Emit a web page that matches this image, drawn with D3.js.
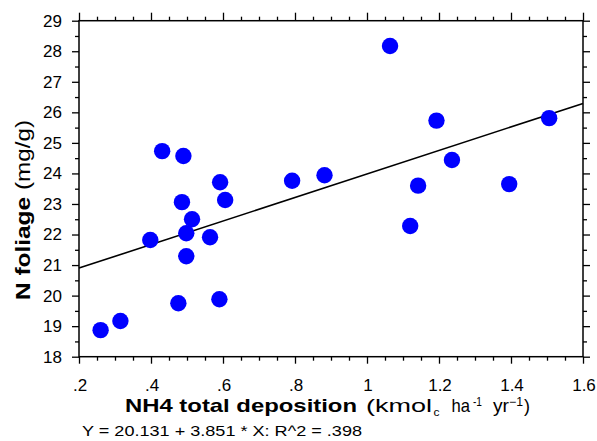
<!DOCTYPE html>
<html>
<head>
<meta charset="utf-8">
<script src="https://cdn.jsdelivr.net/npm/d3@7"></script>
<style>
  body { margin: 0; background: #fff; }
  svg { display: block; font-family: "Liberation Sans", Arial, sans-serif; }
  .axis path { display: none; }
  .axis line { stroke: #000; stroke-width: 1.3; }
  .axis text { font-size: 17px; fill: #000; }
</style>
</head>
<body>
<div id="chart"></div>
<script>
// NH4 deposition (x) vs foliage N (y)
var deposition = [0.260, 0.315, 0.476, 0.590, 0.498, 0.398, 0.498, 0.564, 0.514, 0.486, 0.606, 1.120,
                  0.431, 0.490, 0.592, 0.792, 0.882, 1.064, 1.142, 1.193, 1.236, 1.395, 1.506];
var foliageN   = [18.87, 19.17, 19.75, 19.88, 21.29, 21.82, 22.04, 21.91, 22.50, 23.06, 23.13, 22.28,
                  24.73, 24.57, 23.71, 23.76, 23.94, 28.17, 23.60, 25.73, 24.44, 23.65, 25.81];

// fitted line  Y = 20.131 + 3.851 * X
var intercept = 20.131;
var slope = 3.851;

var xTicks = [0.2, 0.4, 0.6, 0.8, 1.0, 1.2, 1.4, 1.6];
var xTickLabels = [".2", ".4", ".6", ".8", "1", "1.2", "1.4", "1.6"];
var yTicks = [18, 19, 20, 21, 22, 23, 24, 25, 26, 27, 28, 29];

var W = 597, H = 441;
var pLeft = 79, pRight = 583, pTop = 20.7, pBottom = 356.7;

var x = d3.scaleLinear().domain([0.2, 1.6]).range([pLeft, pRight]);
var y = d3.scaleLinear().domain([18, 29]).range([pBottom, pTop]);

var xMinor = d3.range(0.2, 1.6001, 0.05).filter(function (v) {
    return Math.abs(v * 5 - Math.round(v * 5)) > 0.01;
});
var yMinor = d3.range(18.5, 29, 1);

var svg = d3.select('#chart').append('svg')
    .attr('width', W)
    .attr('height', H);

// frame
svg.append('rect')
    .attr('x', pLeft).attr('y', pTop)
    .attr('width', pRight - pLeft).attr('height', pBottom - pTop)
    .attr('fill', 'none').attr('stroke', '#000').attr('stroke-width', 1.5);

// major ticks, all four sides
svg.append('g').attr('class', 'axis')
    .attr('transform', 'translate(' + pLeft + ',0)')
    .call(d3.axisLeft(y).tickValues(yTicks).tickSize(7).tickSizeOuter(0).tickPadding(10).tickFormat(d3.format('d')));
svg.append('g').attr('class', 'axis')
    .attr('transform', 'translate(' + pRight + ',0)')
    .call(d3.axisRight(y).tickValues(yTicks).tickSize(7).tickSizeOuter(0).tickFormat(''));
svg.append('g').attr('class', 'axis')
    .attr('transform', 'translate(0,' + pBottom + ')')
    .call(d3.axisBottom(x).tickValues(xTicks).tickSize(7).tickSizeOuter(0).tickFormat(''));
svg.append('g').attr('class', 'axis')
    .attr('transform', 'translate(0,' + pTop + ')')
    .call(d3.axisTop(x).tickValues(xTicks).tickSize(8).tickSizeOuter(0).tickFormat(''));

// minor ticks
svg.append('g').attr('class', 'axis')
    .attr('transform', 'translate(' + pLeft + ',0)')
    .call(d3.axisLeft(y).tickValues(yMinor).tickSize(4).tickSizeOuter(0).tickFormat(''));
svg.append('g').attr('class', 'axis')
    .attr('transform', 'translate(' + pRight + ',0)')
    .call(d3.axisRight(y).tickValues(yMinor).tickSize(4).tickSizeOuter(0).tickFormat(''));
svg.append('g').attr('class', 'axis')
    .attr('transform', 'translate(0,' + pBottom + ')')
    .call(d3.axisBottom(x).tickValues(xMinor).tickSize(4).tickSizeOuter(0).tickFormat(''));
svg.append('g').attr('class', 'axis')
    .attr('transform', 'translate(0,' + pTop + ')')
    .call(d3.axisTop(x).tickValues(xMinor).tickSize(4).tickSizeOuter(0).tickFormat(''));

// x tick labels
svg.selectAll('text.xlab')
    .data(xTicks)
    .enter()
    .append('text')
    .attr('class', 'xlab')
    .attr('x', function (d) { return x(d) + 1; })
    .attr('y', 391)
    .attr('text-anchor', 'middle')
    .attr('font-size', 17)
    .text(function (d, i) { return xTickLabels[i]; });

// regression line
var line = d3.line()
    .x(function (d) { return x(d); })
    .y(function (d) { return y(intercept + slope * d); });
svg.append('path')
    .datum(x.domain())
    .attr('d', line)
    .attr('fill', 'none')
    .attr('stroke', '#000')
    .attr('stroke-width', 1.6);

// points
svg.selectAll('circle.pt')
    .data(deposition)
    .enter()
    .append('circle')
    .attr('class', 'pt')
    .attr('cx', function (d) { return x(d); })
    .attr('cy', function (d, i) { return y(foliageN[i]); })
    .attr('r', 8.2)
    .attr('fill', '#0000ff');

// y title
var yt = svg.append('g').attr('transform', 'translate(30,0) rotate(-90)');
yt.append('text')
    .attr('x', -300).attr('y', 0)
    .attr('font-size', 19.5).attr('font-weight', 'bold')
    .attr('textLength', 103).attr('lengthAdjust', 'spacingAndGlyphs')
    .text('N foliage');
yt.append('text')
    .attr('x', -190).attr('y', 0)
    .attr('font-size', 19.5)
    .attr('textLength', 70).attr('lengthAdjust', 'spacingAndGlyphs')
    .text('(mg/g)');

// x title
svg.append('text')
    .attr('x', 125).attr('y', 412)
    .attr('font-size', 19).attr('font-weight', 'bold')
    .attr('textLength', 232).attr('lengthAdjust', 'spacingAndGlyphs')
    .text('NH4 total deposition');
var unitParts = [
    { t: '(kmol', x0: 366, w: 66, fs: 19, dy: 0 },
    { t: 'c', x0: 433.5, w: 6, fs: 11, dy: 4 },
    { t: 'ha', x0: 451.5, w: 18.5, fs: 19, dy: 0 },
    { t: '-1', x0: 473, w: 9, fs: 12, dy: -6 },
    { t: 'yr', x0: 493, w: 16, fs: 19, dy: 0 },
    { t: '\u22121', x0: 509, w: 14, fs: 12, dy: -6 },
    { t: ')', x0: 524, w: 6, fs: 19, dy: 0 }
];
svg.selectAll('text.unit')
    .data(unitParts)
    .enter()
    .append('text')
    .attr('class', 'unit')
    .attr('x', function (d) { return d.x0; })
    .attr('y', function (d) { return 412 + d.dy; })
    .attr('font-size', function (d) { return d.fs; })
    .attr('textLength', function (d) { return d.w; })
    .attr('lengthAdjust', 'spacingAndGlyphs')
    .text(function (d) { return d.t; });

// equation
svg.append('text')
    .attr('x', 82).attr('y', 436)
    .attr('font-size', 15.5)
    .attr('textLength', 280).attr('lengthAdjust', 'spacingAndGlyphs')
    .text('Y = ' + intercept + ' + ' + slope + ' * X: R^2 = .398');
</script>
</body>
</html>
